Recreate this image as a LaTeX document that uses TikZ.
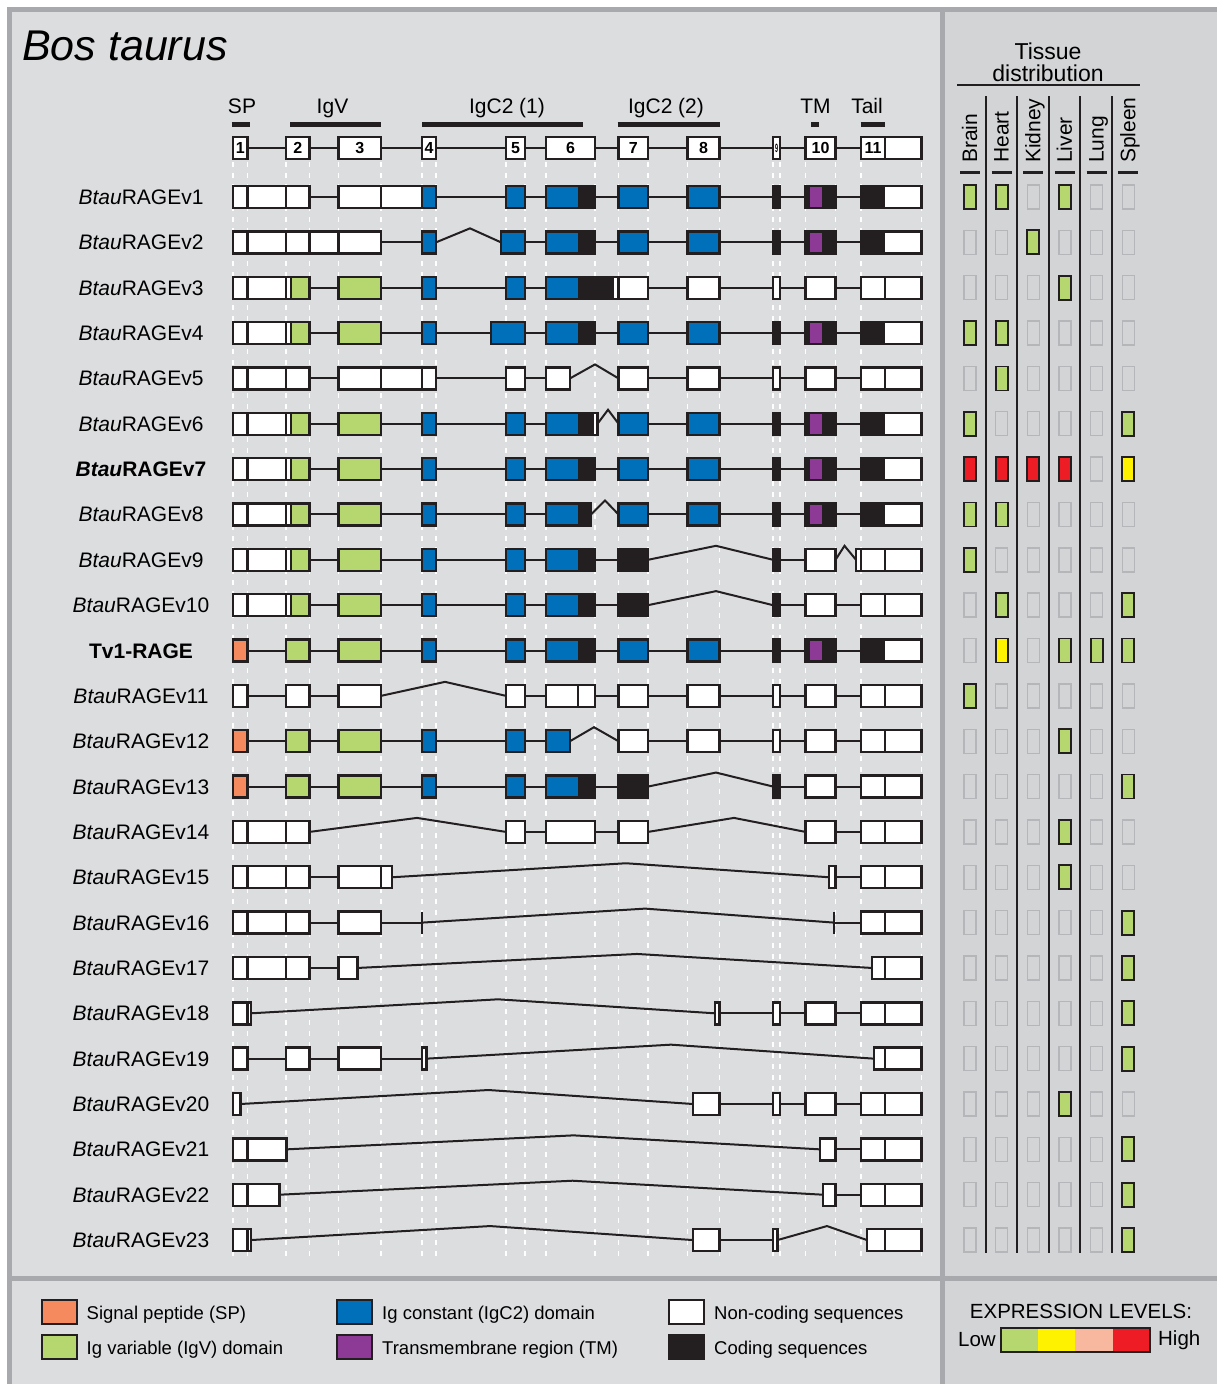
\documentclass[tikz,border=0pt]{standalone}
\usepackage{fontspec}
\setmainfont{Liberation Sans}
\usetikzlibrary{positioning}

\definecolor{spOrange}{HTML}{F58A5E}
\definecolor{igvGreen}{HTML}{B6D670}
\definecolor{igcBlue}{HTML}{0070BA}
\definecolor{tmPurple}{HTML}{8C3A95}
\definecolor{codBlack}{HTML}{231F20}
\definecolor{lvYellow}{HTML}{FFF200}
\definecolor{lvPink}{HTML}{F8B8A0}
\definecolor{lvRed}{HTML}{EE1C25}
\definecolor{panelL}{HTML}{DCDDDF}
\definecolor{panelR}{HTML}{D3D4D6}
\definecolor{frameGray}{HTML}{A7A9AC}
\definecolor{emptyGray}{HTML}{B4B6B9}

\newcommand\setfs[1]{\fontsize{#1}{#1}\selectfont}
% exon pieces, y relative to the row
\newcommand\exfill[3]{\fill[#3] (#1,-11) rectangle (#2,11);}
\newcommand\exbox[2]{\draw[exon] (#1,-11) rectangle (#2,11);}
\newcommand\exdiv[1]{\draw[exon] (#1,-11) -- (#1,11);}
\newcommand\exwhite[2]{\exfill{#1}{#2}{white}\exbox{#1}{#2}}
\newcommand\excol[3]{\exfill{#1}{#2}{#3}\exbox{#1}{#2}}
\newcommand\intron[2]{\draw[intron] (#1,0) -- (#2,0);}
\newcommand\splice[3]{\draw[intron] (#1,0) -- (#2,-14) -- (#3,0);}
% repeated blocks
\newcommand\firstWW{\exwhite{233}{309.5}\exdiv{247.5}\exdiv{286}}
\newcommand\ntermGreen{\exfill{233}{291}{white}\exfill{291}{309.5}{igvGreen}\exbox{233}{309.5}%
  \exdiv{247.5}\exdiv{286}\exdiv{291}\intron{309.5}{338.5}\excol{338.5}{381}{igvGreen}%
  \intron{381}{422}\excol{422}{436}{igcBlue}}
\newcommand\ntermSP{\excol{233}{247.5}{spOrange}\intron{247.5}{286}\excol{286}{309.5}{igvGreen}%
  \intron{309.5}{338.5}\excol{338.5}{381}{igvGreen}\intron{381}{422}\excol{422}{436}{igcBlue}}
\newcommand\exsix{\exfill{546}{578}{igcBlue}\exfill{578}{595}{codBlack}\exbox{546}{595}}
\newcommand\coreSix{\intron{436}{506}\excol{506}{525}{igcBlue}\intron{525}{546}\exsix}
\newcommand\igcTwo{\intron{595}{618.5}\excol{618.5}{648}{igcBlue}\intron{648}{687.5}\excol{687.5}{719.5}{igcBlue}}
\newcommand\lastExon{\exwhite{861}{921.5}\exdiv{885}}
\newcommand\tailTen{\intron{780}{805.5}\exwhite{805.5}{835.5}\intron{835.5}{861}\lastExon}
\newcommand\tailUTR{\intron{719.5}{773}\exwhite{773}{780}\tailTen}
\newcommand\tailCoding{\intron{719.5}{773}\excol{773}{780}{codBlack}\intron{780}{805.5}%
  \exfill{805.5}{835.5}{codBlack}\exfill{809.5}{821.5}{tmPurple}\exbox{805.5}{835.5}%
  \intron{835.5}{861}\exfill{861}{885}{codBlack}\exfill{885}{921.5}{white}\exbox{861}{921.5}}
\newcommand\skipEight{\intron{595}{618.5}\excol{618.5}{648}{codBlack}\splice{648}{716}{773}\excol{773}{780}{codBlack}}

\tikzset{
  exon/.style={draw=codBlack, line width=2.4pt},
  intron/.style={draw=codBlack, line width=2pt},
  tickbar/.style={draw=codBlack, line width=2.6pt},
  guide/.style={white, line width=1.4pt, dash pattern=on 5pt off 6pt},
  rowlbl/.style={font=\setfs{21}, inner sep=0, anchor=base},
  hdlbl/.style={font=\setfs{21}, inner sep=0, anchor=base},
  dombar/.style={codBlack, line width=5pt},
  exnum/.style={font=\setfs{16}\bfseries, inner sep=0},
  tis0/.style={draw=emptyGray, line width=1.4pt},
  tisg/.style={draw=codBlack, fill=igvGreen, line width=1.8pt},
  tisy/.style={draw=codBlack, fill=lvYellow, line width=1.8pt},
  tisr/.style={draw=codBlack, fill=lvRed, line width=1.8pt},
  swatch/.style={draw=codBlack, line width=2pt, minimum width=35pt, minimum height=24pt, inner sep=0},
  legtxt/.style={font=\setfs{18.5}, inner sep=0, yshift=-3pt},
  lvcell/.style={minimum width=37.25pt, minimum height=24pt, inner sep=0, outer sep=0}
}

\begin{document}
\begin{tikzpicture}[x=1pt, y=-1pt]
  \useasboundingbox (0,0) rectangle (1217,1384);
  \fill[white] (0,0) rectangle (1217,1384);
  \fill[panelL] (7,7) rectangle (1217,1384);
  \fill[panelR] (942,12) rectangle (1217,1384);
  \draw[frameGray, line width=5pt] (9.5,1384) -- (9.5,9.5) -- (1217,9.5);
  \draw[frameGray, line width=5pt] (942.5,9.5) -- (942.5,1384);
  \draw[frameGray, line width=5pt] (9.5,1278.5) -- (1217,1278.5);

  \node[anchor=base west, inner sep=0, font=\setfs{43}\itshape] (title) at (22,60) {Bos taurus};

  % domains
  \node[hdlbl] (dSP) at (242,113) {SP};
  \node[hdlbl] (dIgV) at (332.5,113) {IgV};
  \node[hdlbl] (dC1) at (507,113) {IgC2 (1)};
  \node[hdlbl] (dC2) at (666,113) {IgC2 (2)};
  \node[hdlbl] (dTM) at (815.5,113) {TM};
  \node[hdlbl] (dTail) at (867,113) {Tail};
  \draw[dombar] (231.5,124.5) -- (249.5,124.5);
  \draw[dombar] (290,124.5) -- (381,124.5);
  \draw[dombar] (422,124.5) -- (582.5,124.5);
  \draw[dombar] (617.5,124.5) -- (719.5,124.5);
  \draw[dombar] (811,124.5) -- (819,124.5);
  \draw[dombar] (860.5,124.5) -- (885,124.5);

  \foreach \gx in {233,247.5,286,309.5,338.5,381,422,436,506,525,546,595,618.5,648,687.5,719.5,773,780,805.5,835.5,861,921.5}
    \draw[guide] (\gx,162) -- (\gx,1256);

  % gene structure
  \begin{scope}[shift={(0,148)}]
    \intron{233}{921.5}
    \foreach \a/\b/\n in {233/247.5/1,286/309.5/2,338.5/381/3,422/436/4,506/525/5,546/595/6,618.5/648/7,687.5/719.5/8,805.5/835.5/10}{
      \exwhite{\a}{\b}
      \node[exnum] (h\n) at ({(\a+\b)/2},0) {\n};
    }
    \exwhite{773}{780}
    \node[exnum, font=\setfs{12}\bfseries, xscale=0.45] (h9) at (776.5,0) {9};
    \lastExon
    \node[exnum] (h11) at (873,0) {11};
  \end{scope}

  \begin{scope}[shift={(0,197)}]
    \node[rowlbl] (v1) at (141,7.5) {\textit{Btau}RAGEv1};
    \firstWW\intron{309.5}{338.5}
    \exfill{338.5}{422}{white}\exfill{422}{436}{igcBlue}\exbox{338.5}{436}\exdiv{381}\exdiv{422}
    \coreSix\igcTwo\tailCoding
  \end{scope}

  \begin{scope}[shift={(0,242.35)}]
    \node[rowlbl] (v2) at (141,7.5) {\textit{Btau}RAGEv2};
    \exwhite{233}{381}\exdiv{247.5}\exdiv{286}\exdiv{309.5}\exdiv{338.5}
    \intron{381}{422}\excol{422}{436}{igcBlue}\splice{436}{470}{501}\excol{501}{525}{igcBlue}
    \intron{525}{546}\exsix\igcTwo\tailCoding
  \end{scope}

  \begin{scope}[shift={(0,287.7)}]
    \node[rowlbl] (v3) at (141,7.5) {\textit{Btau}RAGEv3};
    \ntermGreen\intron{436}{506}\excol{506}{525}{igcBlue}\intron{525}{546}
    \exfill{546}{578}{igcBlue}\exfill{578}{613}{codBlack}\exfill{613}{648}{white}\exbox{546}{648}\exdiv{613}\exdiv{618.5}
    \intron{648}{687.5}\exwhite{687.5}{719.5}\tailUTR
  \end{scope}

  \begin{scope}[shift={(0,333.05)}]
    \node[rowlbl] (v4) at (141,7.5) {\textit{Btau}RAGEv4};
    \ntermGreen\intron{436}{491}\excol{491}{525}{igcBlue}\intron{525}{546}\exsix\igcTwo\tailCoding
  \end{scope}

  \begin{scope}[shift={(0,378.4)}]
    \node[rowlbl] (v5) at (141,7.5) {\textit{Btau}RAGEv5};
    \firstWW\intron{309.5}{338.5}\exwhite{338.5}{436}\exdiv{381}\exdiv{422}
    \intron{436}{506}\exwhite{506}{525}\intron{525}{546}\exwhite{546}{570}\splice{570}{595}{618.5}
    \exwhite{618.5}{648}\intron{648}{687.5}\exwhite{687.5}{719.5}\tailUTR
  \end{scope}

  \begin{scope}[shift={(0,423.75)}]
    \node[rowlbl] (v6) at (141,7.5) {\textit{Btau}RAGEv6};
    \ntermGreen\intron{436}{506}\excol{506}{525}{igcBlue}\intron{525}{546}
    \exfill{546}{578}{igcBlue}\exfill{578}{593.5}{codBlack}\exfill{593.5}{597.5}{white}\exbox{546}{597.5}
    \splice{597.5}{608}{618.5}\excol{618.5}{648}{igcBlue}\intron{648}{687.5}\excol{687.5}{719.5}{igcBlue}\tailCoding
  \end{scope}

  \begin{scope}[shift={(0,469.1)}]
    \node[rowlbl] (v7) at (141,7.5) {\bfseries\textit{Btau}RAGEv7};
    \ntermGreen\coreSix\igcTwo\tailCoding
  \end{scope}

  \begin{scope}[shift={(0,514.45)}]
    \node[rowlbl] (v8) at (141,7.5) {\textit{Btau}RAGEv8};
    \ntermGreen\intron{436}{506}\excol{506}{525}{igcBlue}\intron{525}{546}
    \exfill{546}{578}{igcBlue}\exfill{578}{591}{codBlack}\exbox{546}{591}
    \splice{591}{605}{618.5}\excol{618.5}{648}{igcBlue}\intron{648}{687.5}\excol{687.5}{719.5}{igcBlue}\tailCoding
  \end{scope}

  \begin{scope}[shift={(0,559.8)}]
    \node[rowlbl] (v9) at (141,7.5) {\textit{Btau}RAGEv9};
    \ntermGreen\coreSix\skipEight
    \intron{780}{805.5}\exwhite{805.5}{835.5}\splice{835.5}{844.5}{856}\exwhite{856}{921.5}\exdiv{861}\exdiv{885}
  \end{scope}

  \begin{scope}[shift={(0,605.15)}]
    \node[rowlbl] (v10) at (141,7.5) {\textit{Btau}RAGEv10};
    \ntermGreen\coreSix\skipEight\tailTen
  \end{scope}

  \begin{scope}[shift={(0,650.5)}]
    \node[rowlbl] (tv1) at (141,7.5) {\bfseries Tv1-RAGE};
    \ntermSP\coreSix\igcTwo\tailCoding
  \end{scope}

  \begin{scope}[shift={(0,695.85)}]
    \node[rowlbl] (v11) at (141,7.5) {\textit{Btau}RAGEv11};
    \exwhite{233}{247.5}\intron{247.5}{286}\exwhite{286}{309.5}\intron{309.5}{338.5}\exwhite{338.5}{381}
    \splice{381}{445}{506}\exwhite{506}{525}\intron{525}{546}\exwhite{546}{595}\exdiv{578}
    \intron{595}{618.5}\exwhite{618.5}{648}\intron{648}{687.5}\exwhite{687.5}{719.5}\tailUTR
  \end{scope}

  \begin{scope}[shift={(0,741.2)}]
    \node[rowlbl] (v12) at (141,7.5) {\textit{Btau}RAGEv12};
    \ntermSP\intron{436}{506}\excol{506}{525}{igcBlue}\intron{525}{546}\excol{546}{570}{igcBlue}
    \splice{570}{594}{618.5}\exwhite{618.5}{648}\intron{648}{687.5}\exwhite{687.5}{719.5}\tailUTR
  \end{scope}

  \begin{scope}[shift={(0,786.55)}]
    \node[rowlbl] (v13) at (141,7.5) {\textit{Btau}RAGEv13};
    \ntermSP\coreSix\skipEight\tailTen
  \end{scope}

  \begin{scope}[shift={(0,831.9)}]
    \node[rowlbl] (v14) at (141,7.5) {\textit{Btau}RAGEv14};
    \firstWW\splice{309.5}{417}{506}\exwhite{506}{525}\intron{525}{546}\exwhite{546}{595}
    \intron{595}{618.5}\exwhite{618.5}{648}\splice{648}{734}{805.5}\exwhite{805.5}{835.5}\intron{835.5}{861}\lastExon
  \end{scope}

  \begin{scope}[shift={(0,877.25)}]
    \node[rowlbl] (v15) at (141,7.5) {\textit{Btau}RAGEv15};
    \firstWW\intron{309.5}{338.5}\exwhite{338.5}{392}\exdiv{381}
    \splice{392}{626}{829}\exwhite{829}{835.5}\intron{835.5}{861}\lastExon
  \end{scope}

  \begin{scope}[shift={(0,922.6)}]
    \node[rowlbl] (v16) at (141,7.5) {\textit{Btau}RAGEv16};
    \firstWW\intron{309.5}{338.5}\exwhite{338.5}{381}\intron{381}{422}
    \splice{422}{645}{834}\draw[tickbar] (422,-11) -- (422,11);\draw[tickbar] (834,-11) -- (834,11);
    \intron{834}{861}\lastExon
  \end{scope}

  \begin{scope}[shift={(0,967.95)}]
    \node[rowlbl] (v17) at (141,7.5) {\textit{Btau}RAGEv17};
    \firstWW\intron{309.5}{338.5}\exwhite{338.5}{357.5}\splice{357.5}{637}{872}\exwhite{872}{921.5}\exdiv{885}
  \end{scope}

  \begin{scope}[shift={(0,1013.3)}]
    \node[rowlbl] (v18) at (141,7.5) {\textit{Btau}RAGEv18};
    \exwhite{233}{251}\exdiv{247.5}\splice{251}{498}{715}\exwhite{715}{719.5}\tailUTR
  \end{scope}

  \begin{scope}[shift={(0,1058.65)}]
    \node[rowlbl] (v19) at (141,7.5) {\textit{Btau}RAGEv19};
    \exwhite{233}{247.5}\intron{247.5}{286}\exwhite{286}{309.5}\intron{309.5}{338.5}\exwhite{338.5}{381}
    \intron{381}{422}\exwhite{422}{426.5}\splice{426.5}{671}{874}\exwhite{874}{921.5}\exdiv{885}
  \end{scope}

  \begin{scope}[shift={(0,1104)}]
    \node[rowlbl] (v20) at (141,7.5) {\textit{Btau}RAGEv20};
    \exwhite{233}{240.5}\splice{240.5}{488.5}{693}\exwhite{693}{719.5}\tailUTR
  \end{scope}

  \begin{scope}[shift={(0,1149.35)}]
    \node[rowlbl] (v21) at (141,7.5) {\textit{Btau}RAGEv21};
    \exwhite{233}{286.5}\exdiv{247.5}\splice{286.5}{573.5}{820}\exwhite{820}{835.5}\intron{835.5}{861}\lastExon
  \end{scope}

  \begin{scope}[shift={(0,1194.7)}]
    \node[rowlbl] (v22) at (141,7.5) {\textit{Btau}RAGEv22};
    \exwhite{233}{279.5}\exdiv{247.5}\splice{279.5}{572.5}{823}\exwhite{823}{835.5}\intron{835.5}{861}\lastExon
  \end{scope}

  \begin{scope}[shift={(0,1240.05)}]
    \node[rowlbl] (v23) at (141,7.5) {\textit{Btau}RAGEv23};
    \exwhite{233}{251}\exdiv{247.5}\splice{251}{490}{693}\exwhite{693}{719.5}\intron{719.5}{773}
    \exwhite{773}{777.5}\splice{777.5}{827}{867}\exwhite{867}{921.5}\exdiv{885}
  \end{scope}

  % tissue distribution
  \node[anchor=base, inner sep=0, font=\setfs{23}] (tisA) at (1048,59) {Tissue};
  \node[anchor=base, inner sep=0, font=\setfs{23}] (tisB) at (1048,81) {distribution};
  \draw[codBlack, line width=2pt] (957,84.5) -- (1140,84.5);
  \foreach \k in {0,...,4}
    \draw[codBlack, line width=2pt] ({985.5+31.65*\k},96) -- ({985.5+31.65*\k},1253);
  \foreach \t [count=\k from 0] in {Brain,Heart,Kidney,Liver,Lung,Spleen}{
    \node[rotate=90, anchor=base west, inner sep=0, font=\setfs{21}] (col\k) at ({977+31.65*\k},163) {\t};
    \draw[codBlack, line width=3pt] ({960+31.65*\k},172) -- ++(20,0);
  }
  \foreach \lv [count=\i from 0] in {{g,g,0,g,0,0},{0,0,g,0,0,0},{0,0,0,g,0,0},{g,g,0,0,0,0},{0,g,0,0,0,0},{g,0,0,0,0,g},
      {r,r,r,r,0,y},{g,g,0,0,0,0},{g,0,0,0,0,0},{0,g,0,0,0,g},{0,y,0,g,g,g},{g,0,0,0,0,0},
      {0,0,0,g,0,0},{0,0,0,0,0,g},{0,0,0,g,0,0},{0,0,0,g,0,0},{0,0,0,0,0,g},{0,0,0,0,0,g},
      {0,0,0,0,0,g},{0,0,0,0,0,g},{0,0,0,g,0,0},{0,0,0,0,0,g},{0,0,0,0,0,g},{0,0,0,0,0,g}}{
    \foreach \c [count=\k from 0] in \lv
      \draw[tis\c] ({964+31.65*\k},{185+45.35*\i}) rectangle ++(12,24);
  }

  % legend
  \node[swatch, fill=spOrange] (swSP) at (59,1312) {};
  \node[swatch, fill=igvGreen] (swIgV) at (59,1347) {};
  \node[swatch, fill=igcBlue] (swIgC) at (354.5,1312) {};
  \node[swatch, fill=tmPurple] (swTM) at (354.5,1347) {};
  \node[swatch, fill=white] (swNC) at (686.5,1312) {};
  \node[swatch, fill=codBlack] (swCD) at (686.5,1347) {};
  \node[legtxt, right=9pt of swSP] (tSP) {Signal peptide (SP)};
  \node[legtxt, right=9pt of swIgV] (tIgV) {Ig variable (IgV) domain};
  \node[legtxt, right=9pt of swIgC] (tIgC) {Ig constant (IgC2) domain};
  \node[legtxt, right=9pt of swTM] (tTM) {Transmembrane region (TM)};
  \node[legtxt, right=9pt of swNC] (tNC) {Non-coding sequences};
  \node[legtxt, right=9pt of swCD] (tCD) {Coding sequences};

  \node[anchor=base, inner sep=0, font=\setfs{20.5}] (exprhd) at (1081,1318) {EXPRESSION LEVELS:};
  \node[lvcell, fill=igvGreen] (lvA) at (1019.6,1340) {};
  \node[lvcell, fill=lvYellow, right=0pt of lvA] (lvB) {};
  \node[lvcell, fill=lvPink, right=0pt of lvB] (lvC) {};
  \node[lvcell, fill=lvRed, right=0pt of lvC] (lvD) {};
  \draw[codBlack, line width=1.6pt] (lvA.north west) rectangle (lvD.south east);
  \node[inner sep=0, font=\setfs{20.5}, left=5pt of lvA] (low) {Low};
  \node[inner sep=0, font=\setfs{20.5}, right=8pt of lvD] (high) {High};
\end{tikzpicture}
\end{document}
